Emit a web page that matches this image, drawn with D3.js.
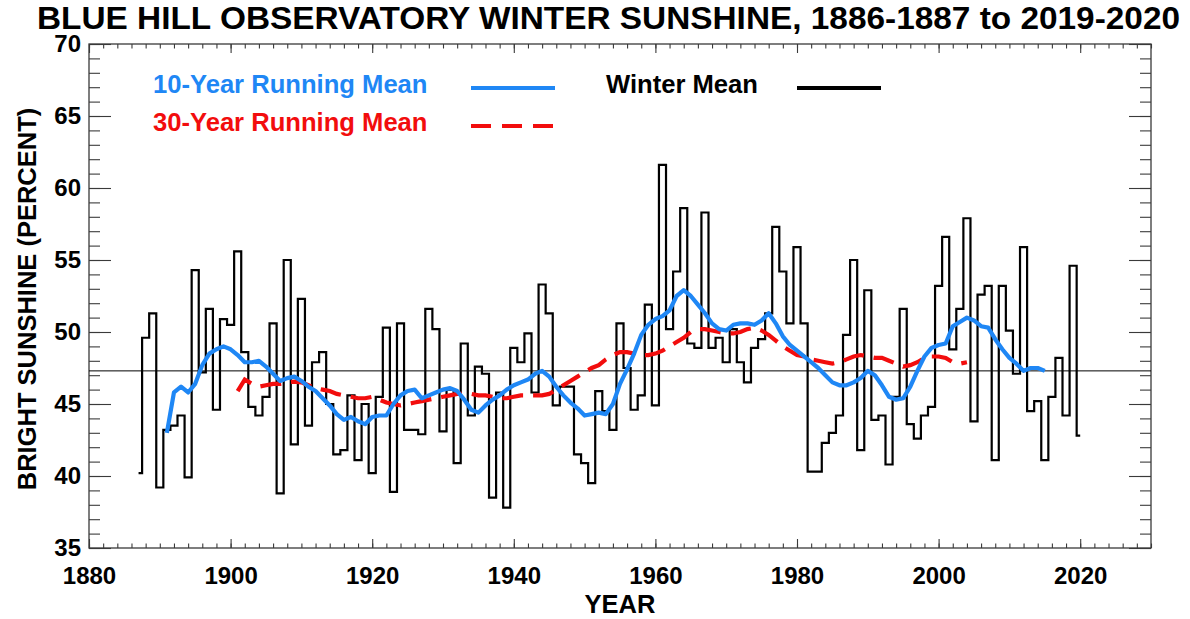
<!DOCTYPE html>
<html><head><meta charset="utf-8">
<script src="https://cdn.jsdelivr.net/npm/d3@7"></script>
<style>
html,body{margin:0;padding:0;background:#fff;}
svg{display:block;font-family:"Liberation Sans",Arial,Helvetica,sans-serif;}
</style>
</head><body>
<svg id="c" width="1190" height="619"></svg>
<script>
// ---------------- DATA ----------------
const titleText = "BLUE HILL OBSERVATORY WINTER SUNSHINE, 1886-1887 to 2019-2020";
const yAxisTitle = "BRIGHT SUNSHINE (PERCENT)";
const xAxisTitle = "YEAR";
const xMajorTicks = [1880,1900,1920,1940,1960,1980,2000,2020];
const yMajorTicks = [35,40,45,50,55,60,65,70];
const legendLabels = ["10-Year Running Mean","30-Year Running Mean","Winter Mean"];

// winter (Dec-Feb) mean bright sunshine, winter ending year 1887 ... 2020
const winterYears = d3.range(1887, 2021);
const winterValues = [
 40.2,49.6,51.3,39.2,43.2,43.5,44.2,39.9,54.3,47.2, // 1887-1896
 51.6,44.6,50.9,50.5,55.6,48.6,44.8,44.2,45.5,50.6, // 1897-1906
 38.8,55.0,42.2,52.3,43.5,47.9,48.6,45.0,41.5,41.8, // 1907-1916
 45.6,41.1,45.0,40.2,45.5,50.3,38.9,50.6,43.2,43.2, // 1917-1926
 42.9,51.6,50.2,43.1,46.0,40.9,49.2,44.2,47.6,47.1, // 1927-1936
 38.5,45.8,37.8,48.9,47.9,49.9,45.8,53.3,51.3,44.9, // 1937-1946
 46.2,46.2,41.5,40.9,39.5,45.9,44.5,43.2,50.6,47.5, // 1947-1956
 44.6,45.6,51.9,44.9,61.6,50.2,54.2,58.6,49.2,48.9, // 1957-1966
 58.3,48.9,49.6,47.9,50.2,47.9,46.5,48.9,49.5,51.3, // 1967-1976
 57.3,54.2,50.6,55.9,50.6,40.3,40.3,42.3,43.0,44.2, // 1977-1986
 49.8,55.0,41.8,52.9,43.9,44.2,40.8,45.5,51.6,43.6, // 1987-1996
 42.6,44.2,44.8,53.2,56.6,48.8,51.6,57.9,43.8,52.6, // 1997-2006
 53.2,41.1,53.2,50.1,47.1,55.9,44.5,45.2,41.1,45.5, // 2007-2016
 48.2,44.2,54.6,42.8                                // 2017-2020
];
const winterMean = 47.3;

// 10-year running mean 1891 ... 2015
const run10Years = d3.range(1891, 2016);
const run10Values = [
 43.0,45.8,46.2,45.8,46.4,47.7,48.5,48.8,49.0,48.8, // 1891-1900
 48.4,47.9,47.9,48.0,47.6,47.1,46.6,46.8,46.9,46.6, // 1901-1910
 46.2,45.9,45.4,44.9,44.3,43.9,44.1,43.8,43.6,44.1, // 1911-1920
 44.2,44.2,45.0,45.6,45.9,46.0,45.4,45.6,45.8,46.0, // 1921-1930
 46.1,45.9,45.3,44.6,44.4,44.9,45.3,45.6,46.0,46.3, // 1931-1940
 46.5,46.7,47.1,47.3,46.9,46.2,45.6,45.1,44.7,44.2, // 1941-1950
 44.3,44.4,44.3,45.0,46.4,47.4,48.5,49.8,50.5,50.9, // 1951-1960
 51.1,51.5,52.5,52.9,52.5,51.9,51.3,50.6,50.2,50.1, // 1961-1970
 50.5,50.6,50.6,50.5,50.8,51.3,50.6,49.7,49.1,48.7, // 1971-1980
 48.3,47.9,47.5,47.0,46.5,46.3,46.3,46.5,46.8,47.3, // 1981-1990
 47.0,46.3,45.5,45.3,45.4,46.2,47.3,48.3,48.9,49.1, // 1991-2000
 49.2,50.4,50.7,51.0,50.8,50.4,50.3,49.5,48.8,48.2, // 2001-2010
 47.8,47.3,47.5,47.5,47.3                           // 2011-2015
];

// 30-year running mean 1901 ... 2004
const run30Years = d3.range(1901, 2005);
const run30Values = [
 45.9,46.7,46.4,46.2,46.3,46.4,46.4,46.5,46.55,46.5, // 1901-1910
 46.3,46.1,46.0,45.9,45.7,45.6,45.5,45.4,45.4,45.5,  // 1911-1920
 45.3,45.1,45.0,44.9,45.0,45.1,45.2,45.3,45.4,45.5,  // 1921-1930
 45.6,45.7,45.7,45.7,45.6,45.6,45.5,45.4,45.4,45.5,  // 1931-1940
 45.6,45.6,45.6,45.6,45.7,46.0,46.3,46.6,46.9,47.2,  // 1941-1950
 47.5,47.7,48.1,48.4,48.6,48.6,48.5,48.4,48.4,48.5,  // 1951-1960
 48.7,49.0,49.3,49.6,50.0,50.2,50.2,50.1,50.0,49.9,  // 1961-1970
 49.9,50.0,50.2,50.3,50.1,49.8,49.4,49.0,48.7,48.4,  // 1971-1980
 48.3,48.1,48.0,47.9,47.8,47.9,48.1,48.3,48.4,48.3,  // 1981-1990
 48.2,48.2,48.0,47.8,47.6,47.7,47.9,48.2,48.3,48.3,  // 1991-2000
 48.2,47.9,47.8,47.9                                 // 2001-2004
];

// ---------------- CHART ----------------
const BLUE = "#1f87f5", RED = "#f20d0d", FRAME = "#3a3a3a";
const svg = d3.select("#c");
const x = d3.scaleLinear().domain([1880, 2030]).range([89, 1151]);
const y = d3.scaleLinear().domain([35, 70]).range([548, 44]);

// title
svg.append("text").attr("x", 37).attr("y", 29)
  .attr("textLength", 1143).attr("lengthAdjust", "spacingAndGlyphs")
  .style("font-size", "30.5px").style("font-weight", "bold").text(titleText);

// axes with inward ticks (minor and major, mirrored)
const xMinor = d3.range(1880, 2031, 2);
const yMinor = d3.range(35, 71, 1);
function styleAxis(g){ g.select(".domain").remove(); g.selectAll("line").attr("stroke", FRAME).attr("stroke-width", 1.1); }
const lab = g => g.selectAll("text").style("font-size","24px").style("font-weight","bold").attr("fill","#000");

svg.append("g").attr("transform","translate(0,548)")
  .call(d3.axisBottom(x).tickValues(xMinor).tickSize(-4.5).tickFormat("")).call(styleAxis);
svg.append("g").attr("transform","translate(0,548)")
  .call(d3.axisBottom(x).tickValues(xMajorTicks).tickSize(-9).tickPadding(19).tickFormat(d3.format("d")))
  .call(styleAxis).call(lab);
svg.append("g").attr("transform","translate(0,44)")
  .call(d3.axisTop(x).tickValues(xMinor).tickSize(-4.5).tickFormat("")).call(styleAxis);
svg.append("g").attr("transform","translate(0,44)")
  .call(d3.axisTop(x).tickValues(xMajorTicks).tickSize(-9).tickFormat("")).call(styleAxis);

svg.append("g").attr("transform","translate(89,0)")
  .call(d3.axisLeft(y).tickValues(yMinor).tickSize(-11).tickFormat("")).call(styleAxis);
svg.append("g").attr("transform","translate(89,0)")
  .call(d3.axisLeft(y).tickValues(yMajorTicks).tickSize(-22).tickPadding(8).tickFormat(d3.format("d")))
  .call(styleAxis).call(lab);
svg.append("g").attr("transform","translate(1151,0)")
  .call(d3.axisRight(y).tickValues(yMinor).tickSize(-11).tickFormat("")).call(styleAxis);
svg.append("g").attr("transform","translate(1151,0)")
  .call(d3.axisRight(y).tickValues(yMajorTicks).tickSize(-22).tickFormat("")).call(styleAxis);

// frame
svg.append("rect").attr("x", x(1880)).attr("y", y(70))
  .attr("width", x(2030) - x(1880)).attr("height", y(35) - y(70))
  .attr("fill", "none").attr("stroke", FRAME).attr("stroke-width", 1.3);

// axis titles
svg.append("text").attr("x", 620).attr("y", 613).attr("text-anchor","middle")
  .style("font-size","25.5px").style("font-weight","bold").text(xAxisTitle);
svg.append("text").attr("transform","translate(36,299) rotate(-90)").attr("text-anchor","middle")
  .style("font-size","25.5px").style("font-weight","bold").text(yAxisTitle);

// winter mean horizontal line
svg.append("line").attr("x1", x(1880)).attr("x2", x(2030))
  .attr("y1", y(winterMean)).attr("y2", y(winterMean))
  .attr("stroke", "#000").attr("stroke-width", 1);

// winter values as histogram steps
const stepLine = d3.line().x(d => x(d[0])).y(d => y(d[1])).curve(d3.curveStep);
svg.append("path").datum(winterYears.map((yr, i) => [yr, winterValues[i]]))
  .attr("d", stepLine).attr("fill","none").attr("stroke","#000")
  .attr("stroke-width", 2.2).attr("stroke-linejoin","miter");

const lin = d3.line().x(d => x(d[0])).y(d => y(d[1]));
// 30-year running mean
svg.append("path").datum(run30Years.map((yr, i) => [yr, run30Values[i]]))
  .attr("d", lin).attr("fill","none").attr("stroke", RED)
  .attr("stroke-width", 4.2).attr("stroke-dasharray","21,10");
// 10-year running mean
svg.append("path").datum(run10Years.map((yr, i) => [yr, run10Values[i]]))
  .attr("d", lin).attr("fill","none").attr("stroke", BLUE)
  .attr("stroke-width", 4.2).attr("stroke-linejoin","round");

// legend
const lg = svg.append("g").style("font-size","25.6px").style("font-weight","bold");
lg.append("text").attr("x",153).attr("y",93).attr("fill",BLUE).text(legendLabels[0]);
lg.append("text").attr("x",153).attr("y",131).attr("fill",RED).text(legendLabels[1]);
lg.append("text").attr("x",606).attr("y",93).attr("fill","#000").text(legendLabels[2]);
lg.append("line").attr("x1",471).attr("x2",555).attr("y1",88).attr("y2",88).attr("stroke",BLUE).attr("stroke-width",4.2);
lg.append("line").attr("x1",471).attr("x2",555).attr("y1",126).attr("y2",126).attr("stroke",RED).attr("stroke-width",4.2).attr("stroke-dasharray","20,11");
lg.append("line").attr("x1",797).attr("x2",881).attr("y1",88).attr("y2",88).attr("stroke","#000").attr("stroke-width",4.2);
</script>
</body></html>
